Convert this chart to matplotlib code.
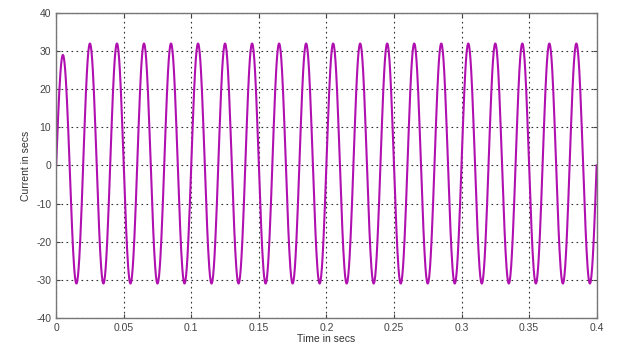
import numpy as np
import matplotlib
matplotlib.use("Agg")
import matplotlib.pyplot as plt

plt.rcParams['font.family'] = ['Liberation Sans', 'DejaVu Sans']
plt.rcParams['axes.unicode_minus'] = False

# Data: 50 Hz current, half-cycle extrema (A)
freq_hz = 50.0
t_end = 0.4
peak_values = [29, 32, 32, 32, 32, 32, 32, 32, 32, 32,
               32, 32, 32, 32, 32, 32, 32, 32, 32, 32]
trough_values = [-31, -31, -31, -31, -31, -31, -31, -31, -31, -31,
                 -31, -31, -31, -31, -31, -31, -31, -31, -31, -31]
x_ticks = [0, 0.05, 0.1, 0.15, 0.2, 0.25, 0.3, 0.35, 0.4]
x_tick_labels = ['0', '0.05', '0.1', '0.15', '0.2', '0.25', '0.3', '0.35', '0.4']
y_ticks = [-40, -30, -20, -10, 0, 10, 20, 30, 40]

# build sinusoidal half-waves scaled by each read extremum
half = 1.0 / freq_hz / 2
extrema = []
for p, tr in zip(peak_values, trough_values):
    extrema += [p, tr]
ts, ys = [], []
for k, e in enumerate(extrema):
    tt = np.linspace(k * half, (k + 1) * half, 40)
    ts.append(tt)
    ys.append(e * np.sin(np.pi * (tt - k * half) / half))
t = np.concatenate(ts)
i = np.concatenate(ys)

fig = plt.figure(figsize=(6.17, 3.52), dpi=100)
ax = fig.add_axes([0.091, 0.097, 0.876, 0.866])
ax.plot(t, i, color='#b010b0', linewidth=1.5)
ax.set_xlim(0, t_end)
ax.set_ylim(-40, 40)
ax.set_xticks(x_ticks)
ax.set_xticklabels(x_tick_labels)
ax.set_yticks(y_ticks)
ax.grid(True, color='#333333', linestyle=(0, (1.5, 3)), linewidth=0.8)
for s in ax.spines.values():
    s.set_color('#777777')
    s.set_linewidth(1.0)
ax.tick_params(labelsize=7.5, colors='#444444', length=3, direction='in', top=True, right=True)
ax.set_xlabel('Time in secs', fontsize=7.5, color='#333333', labelpad=1)
ax.set_ylabel('Current in secs', fontsize=7.5, color='#333333', labelpad=4)
fig.savefig('out.png', dpi=100)
